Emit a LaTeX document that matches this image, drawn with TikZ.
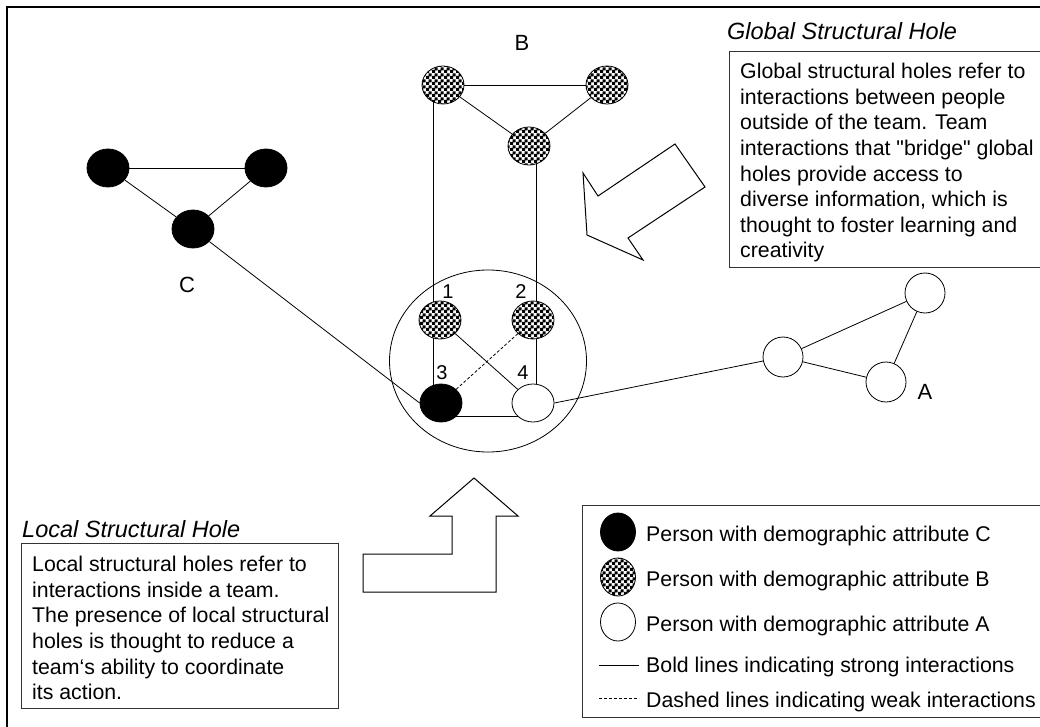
\documentclass[tikz,border=0pt]{standalone}
\usepackage{fontspec}
\setmainfont{Liberation Sans}[Ligatures=TeXOff]
\usetikzlibrary{shapes.geometric,patterns,backgrounds}

% coarse black-and-white checkerboard used for attribute B
\pgfdeclarepatternformonly{bigchecker}{\pgfpointorigin}{\pgfqpoint{6pt}{6pt}}{\pgfqpoint{6pt}{6pt}}{%
  \pgfpathrectangle{\pgfpointorigin}{\pgfqpoint{3.5pt}{3.5pt}}%
  \pgfpathrectangle{\pgfqpoint{3pt}{3pt}}{\pgfqpoint{3.5pt}{3.5pt}}%
  \pgfusepath{fill}}

\begin{document}
\begin{tikzpicture}[x=1pt,y=-1pt,
  person/.style={ellipse, draw, line width=0.8pt, minimum width=42pt, minimum height=38pt, inner sep=0pt},
  pc/.style={person, fill=black},
  pb/.style={person, preaction={fill=white}, pattern=bigchecker},
  pa/.style={person, fill=white},
  tie/.style={line width=0.8pt},
  weak/.style={tie, dash pattern=on 3pt off 2pt},
  bodytext/.style={font=\fontsize{21.3}{25.6}\selectfont, inner sep=0pt, align=left},
  headtext/.style={font=\fontsize{23.5}{28}\selectfont\itshape, inner sep=0pt},
  grouplabel/.style={font=\fontsize{22}{26}\selectfont, inner sep=0pt},
  numlabel/.style={font=\fontsize{20}{24}\selectfont, inner sep=0pt},
  infobox/.style={draw=black!80, line width=1pt, rectangle, inner sep=0pt},
  bigarrow/.style={draw, line width=1pt, fill=white, line join=miter}
]
\useasboundingbox (0,0) rectangle (1040,727);

% outer frame
\draw[line width=2.2pt] (7,7) rectangle (1046,735);

% group B
\node[pb] (btl) at (443,85) {};
\node[pb] (btr) at (607,85) {};
\node[pb] (bm)  at (529,146) {};
\node[grouplabel] (lblB) at (522,43) {B};

% group C
\node[pc] (ctl) at (108,168) {};
\node[pc] (ctr) at (266,168) {};
\node[pc] (cb)  at (193,229) {};
\node[grouplabel] (lblC) at (187,285) {C};

% group A
\node[pa, minimum width=40pt, minimum height=40pt] (al) at (783,357) {};
\node[pa, minimum width=40pt, minimum height=40pt] (ar) at (925,293) {};
\node[pa, minimum width=40pt, minimum height=40pt] (ab) at (886,382) {};
\node[grouplabel] (lblA) at (925,392) {A};

% the team
\node[ellipse, draw, line width=0.8pt, minimum width=197pt, minimum height=182pt] (team) at (488,361) {};
\node[pb] (n1) at (440,320) {};
\node[pb] (n2) at (533,320) {};
\node[pc] (n3) at (441,403) {};
\node[pa] (n4) at (533,403) {};
\node[numlabel] (lbl1) at (448,292) {1};
\node[numlabel] (lbl2) at (521,292) {2};
\node[numlabel] (lbl3) at (442,373) {3};
\node[numlabel] (lbl4) at (523,373) {4};

% interactions
\begin{scope}[on background layer]
  \draw[tie] (btl) -- (btr);
  \draw[tie] (btl) -- (bm);
  \draw[tie] (btr) -- (bm);
  \draw[tie] (ctl) -- (ctr);
  \draw[tie] (ctl) -- (cb);
  \draw[tie] (ctr) -- (cb);
  \draw[tie] (al) -- (ar);
  \draw[tie] (al) -- (ab);
  \draw[tie] (ar) -- (ab);
  \draw[tie] ([xshift=-10pt]btl.center) -- ([xshift=-10pt]btl.center |- n3.center);
  \draw[tie] ([xshift=7pt]bm.center) -- ([xshift=7pt]bm.center |- n4.center);
  \draw[tie] ([yshift=-13pt]n3.center) -- ([yshift=-13pt]n4.center);
  \draw[tie] (n1) -- (n4);
  \draw[weak] (n2) -- (n3);
  \draw[tie] (cb) -- (n3.west);
  \draw[tie] (n4.east) -- (al);
\end{scope}

% global structural hole
\node[headtext, anchor=base west] (ghead) at (727,40) {Global Structural Hole};
\node[infobox, anchor=north west, minimum width=330pt, minimum height=216pt] (gbox) at (729,51) {};
\node[bodytext, anchor=north west] (gtext) at (740,63) {Global structural holes refer to\\interactions between people\\outside of the team. Team\\interactions that "bridge" global\\holes provide access to\\diverse information, which is\\thought to foster learning and\\creativity};
\draw[bigarrow] (583,173) -- (598,196) -- (675,144) -- (705,187) -- (628,238) -- (643,260) -- (587,235) -- cycle;

% local structural hole
\node[headtext, anchor=base west] (lhead) at (22,537) {Local Structural Hole};
\node[infobox, anchor=north west, minimum width=317pt, minimum height=165pt] (lbox) at (21,543) {};
\node[bodytext, anchor=north west] (ltext) at (32,556) {Local structural holes refer to\\interactions inside a team.\\The presence of local structural\\holes is thought to reduce a\\team‘s ability to coordinate\\its action.};
\draw[bigarrow] (474,478) -- (518,516) -- (496,516) -- (496,592) -- (363,592) -- (363,554) -- (452,554) -- (452,516) -- (430,516) -- cycle;

% legend
\node[infobox, anchor=north west, minimum width=470pt, minimum height=212pt] (legbox) at (582,505) {};
\node[pc, minimum width=35pt, minimum height=38pt] (legC) at (618,532) {};
\node[pb, minimum width=35pt, minimum height=38pt] (legB) at (618,577) {};
\node[pa, minimum width=35pt, minimum height=38pt] (legA) at (618,622) {};
\coordinate (solidL) at (599,665);
\coordinate (solidR) at (639,665);
\coordinate (dashL) at (599,698);
\coordinate (dashR) at (639,698);
\draw[tie] (solidL) -- (solidR);
\draw[weak] (dashL) -- (dashR);
\node[bodytext, anchor=base west] (legCt) at (646,541) {Person with demographic attribute C};
\node[bodytext, anchor=base west] (legBt) at (646,586) {Person with demographic attribute B};
\node[bodytext, anchor=base west] (legAt) at (646,631) {Person with demographic attribute A};
\node[bodytext, anchor=base west] (legSt) at (646,672) {Bold lines indicating strong interactions};
\node[bodytext, anchor=base west] (legDt) at (646,707) {Dashed lines indicating weak interactions};
\end{tikzpicture}
\end{document}
